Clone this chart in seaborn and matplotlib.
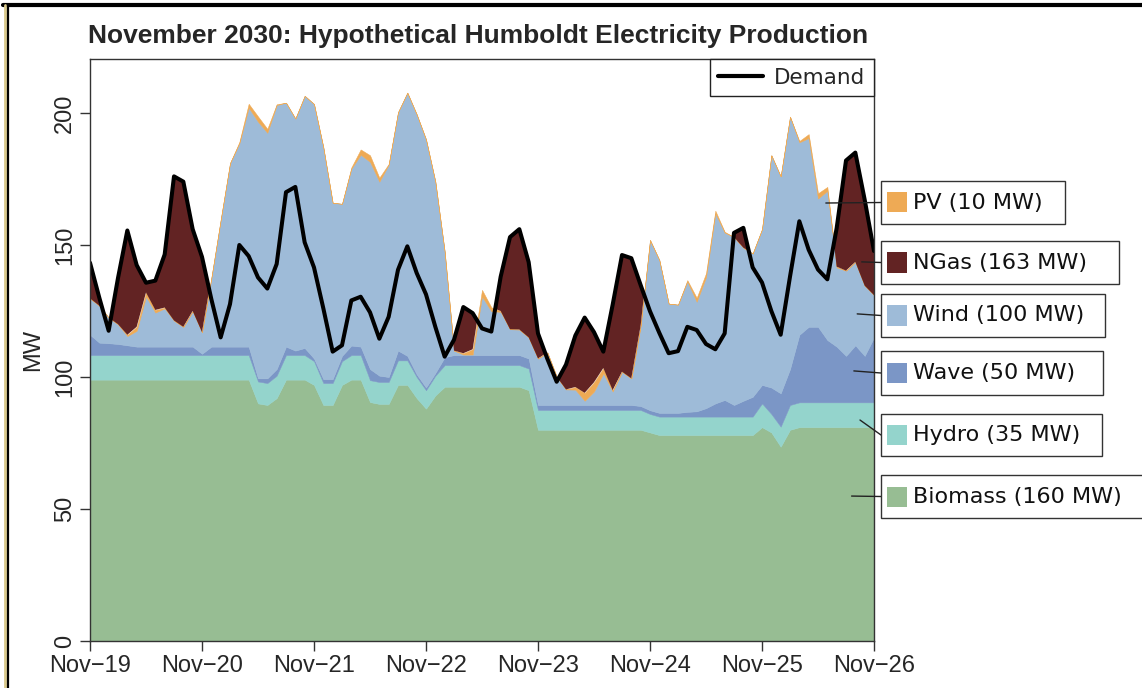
import numpy as np
import pandas as pd
import matplotlib
matplotlib.use('Agg')
import matplotlib.pyplot as plt
import seaborn as sns
from matplotlib.lines import Line2D
from matplotlib.patches import Rectangle

# 2-hourly samples, Nov-19 00:00 .. Nov-26 00:00 (one row per day)
hours = np.arange(0, 170, 2)

biomass = [99, 99, 99, 99, 99, 99, 99, 99, 99, 99, 99, 99,
           99, 99, 99, 99, 99, 99, 90, 89.4, 92, 99, 99, 99,
           97, 89.4, 89.4, 97, 99, 99, 90.5, 89.8, 89.8, 97, 97, 92,
           88, 93, 96.3, 96.3, 96.3, 96.3, 96.3, 96.3, 96.3, 96.3, 96.3, 95,
           80, 80, 80, 80, 80, 80, 80, 80, 80, 80, 80, 80,
           79, 78, 78, 78, 78, 78, 78, 78, 78, 78, 78, 78,
           81, 79, 73.6, 80, 81, 81, 81, 81, 81, 81, 81, 81,
           81]
hydro = [9.3, 9.3, 9.3, 9.3, 9.3, 9.3, 9.3, 9.3, 9.3, 9.3, 9.3, 9.3,
         9.3, 9.3, 9.3, 9.3, 9.3, 9.3, 8.3, 8.3, 8.5, 9.3, 9.3, 9.3,
         9, 8.3, 8.3, 9, 9.3, 9.3, 8.3, 8.3, 8.3, 9.3, 9.3, 8,
         7, 7.5, 8.2, 8.2, 8.2, 8.2, 8.2, 8.2, 8.2, 8.2, 8.2, 8.2,
         7.5, 7.5, 7.5, 7.5, 7.5, 7.5, 7.5, 7.5, 7.5, 7.5, 7.5, 7.5,
         7, 7, 7, 7, 7, 7, 7, 7, 7, 7, 7, 7,
         9, 7, 7.6, 9.4, 9.4, 9.4, 9.4, 9.4, 9.4, 9.4, 9.4, 9.4,
         9.4]
wave = [7.7, 4.7, 4.5, 4.2, 3.7, 3.2, 3.2, 3.2, 3.2, 3.2, 3.2, 3.2,
        0.5, 3.2, 3.2, 3.2, 3.2, 3.2, 1.2, 1.8, 2.5, 3.2, 1.7, 2.7,
        1, 1.5, 1.5, 2, 3.6, 3.2, 4.2, 2.4, 1.9, 3.7, 1.7, 1,
        1, 1, 3, 3.8, 3.8, 3.8, 3.8, 3.8, 3.8, 3.8, 3.8, 3.8,
        1.9, 1.9, 1.9, 1.9, 1.9, 1.9, 1.9, 1.9, 1.9, 1.9, 1.9, 1.5,
        1.4, 1.4, 1.4, 1.4, 1.8, 2, 3.2, 5, 6.3, 4.4, 6, 7.5,
        7, 10, 12.6, 13.6, 25.6, 28.6, 28.6, 23.6, 21.1, 17.6, 21.6, 17.6,
        24.6]
wind = [13.8, 14, 9.7, 7.5, 3.5, 6, 19, 12.9, 14.5, 9.9, 7.5, 13.5,
        8.2, 26, 48, 69.5, 77, 90.5, 97.2, 93, 100, 92.4, 87.9, 95.5,
        96.4, 87.8, 66.8, 57.6, 67, 72.7, 78.5, 73.5, 80.4, 90.3, 99.7, 98.5,
        94, 72.5, 40, 1.7, 0.2, 0.2, 22.2, 16.6, 16.4, 9.8, 9.7, 8,
        17.6, 19.9, 10.7, 5.9, 5.8, 1.6, 5.1, 12, 5.1, 12.6, 10.1, 30.5,
        64.5, 57.9, 41.4, 41, 49.4, 41.5, 49.6, 72, 63.4, 63.6, 58, 54.3,
        59, 88, 82.2, 95.6, 72.9, 71.5, 48.6, 56.5, 30, 32.3, 31.6, 26.6,
        16]
pv = [0, 0, 0, 0, 0.5, 1.5, 1.5, 1, 0.3, 0, 0, 0,
      0, 0, 0, 0, 0.5, 1.5, 2, 1.5, 0.3, 0, 0, 0,
      0, 0, 0, 0, 0.5, 2, 2.5, 1.5, 0.3, 0, 0, 0,
      0, 0, 0, 0, 0.5, 2, 2.5, 1.5, 0.3, 0, 0, 0,
      0, 0, 0, 0, 1, 3, 3.5, 2, 0.5, 0, 0, 0,
      0, 0, 0, 0, 0.5, 1.5, 1.5, 1, 0.3, 0, 0, 0,
      0, 0, 0, 0, 0.5, 1.5, 2, 1.5, 0.3, 0, 0, 0,
      0]
demand = [143.3, 130, 117.5, 137.5, 155.5, 142.4, 135.7, 136.5, 146.4, 176, 174, 156,
          145.5, 129.5, 115, 127.6, 150, 145.8, 137.7, 133.5, 142.8, 170, 172, 151,
          141.5, 126, 109.6, 112, 129, 130.4, 124.5, 114.5, 122.8, 140.6, 149.5, 139.4,
          131.3, 119, 107.7, 114.1, 126.5, 124.2, 118.4, 117.2, 138, 153, 156, 143.5,
          116.5, 106.9, 98.2, 104.7, 115.7, 122.5, 117, 109.6, 127.4, 146.2, 145, 134.8,
          124.9, 116.7, 109, 109.8, 119, 117.8, 112.5, 110.5, 116.5, 154.6, 156.5, 141.5,
          135.8, 125, 116, 138, 159, 148.2, 140.7, 137, 156.4, 182, 185, 167.2,
          147.7]

day_labels = ['Nov\u221219', 'Nov\u221220', 'Nov\u221221', 'Nov\u221222',
              'Nov\u221223', 'Nov\u221224', 'Nov\u221225', 'Nov\u221226']
y_ticks = [0, 50, 100, 150, 200]

# legend boxes on the right: label, colour, anchor point (day, MW), box in pixels (x0, y0, x1, y1 from top-left)
labels = ['PV (10 MW)', 'NGas (163 MW)', 'Wind (100 MW)', 'Wave (50 MW)', 'Hydro (35 MW)', 'Biomass (160 MW)']
colors = {'Biomass': '#97bd93', 'Hydro': '#94d4cc', 'Wave': '#7b96c6',
          'Wind': '#9ebbd8', 'PV': '#eeaa55', 'NGas': '#622323'}
label_colors = [colors['PV'], colors['NGas'], colors['Wind'], colors['Wave'], colors['Hydro'], colors['Biomass']]
anchors = [(6.57, 165.9), (6.89, 143.6), (6.85, 123.9), (6.82, 102.3), (6.875, 83.7), (6.80, 54.9)]
boxes = [(881, 181, 1065, 224), (881, 241, 1119, 284), (881, 294, 1105, 337),
         (881, 351, 1103, 395), (881, 414, 1102, 456), (881, 475, 1150, 518)]

df = pd.DataFrame({'hour': hours, 'Biomass': biomass, 'Hydro': hydro, 'Wave': wave,
                   'Wind': wind, 'PV': pv, 'Demand': demand})
df['day'] = df['hour'] / 24
supply = df[['Biomass', 'Hydro', 'Wave', 'Wind', 'PV']].sum(axis=1)

sns.set_theme(style='white')
plt.rcParams['font.family'] = ['Liberation Sans', 'DejaVu Sans']

W, H = 1142, 688
fig = plt.figure(figsize=(W / 100, H / 100), dpi=100)
ax = fig.add_axes([90 / W, 1 - 641 / H, (874 - 90) / W, (641 - 59) / H])

ax.stackplot(df['day'], df['Biomass'], df['Hydro'], df['Wave'], df['Wind'], df['PV'],
             colors=[colors['Biomass'], colors['Hydro'], colors['Wave'], colors['Wind'], colors['PV']],
             edgecolor='face', linewidth=0.35)
# gas fills the gap between renewables and demand
ax.fill_between(df['day'], supply, df['Demand'], where=df['Demand'] > supply,
                interpolate=True, color=colors['NGas'], linewidth=0)
sns.lineplot(data=df, x='day', y='Demand', color='black', linewidth=2.9, ax=ax, legend=False)

ax.set_xlim(0, 7)
ax.set_ylim(0, 220.45)
ax.set_xticks(range(8))
ax.set_xticklabels(day_labels, fontsize=17)
ax.set_yticks(y_ticks)
ax.set_yticklabels([str(v) for v in y_ticks], fontsize=17, rotation=90, va='center')
ax.tick_params(axis='both', bottom=True, left=True, direction='out', length=7, width=1,
               color='#333333', pad=3)
ax.set_xlabel('')
ax.set_ylabel('MW', fontsize=17, labelpad=7)
for s in ax.spines.values():
    s.set_visible(True)
    s.set_color('#333333')
    s.set_linewidth(1)

leg = ax.legend(handles=[Line2D([0], [0], color='black', lw=3)], labels=['Demand'],
                loc='upper right', bbox_to_anchor=(1, 1), borderaxespad=0, frameon=True,
                fancybox=False, framealpha=1, edgecolor='#222222',
                prop={'family': 'DejaVu Sans', 'size': 15.5},
                handlelength=2.1, handletextpad=0.5, borderpad=0.4)
leg.get_frame().set_linewidth(1)

fig.text(88 / W, 1 - 36 / H, 'November 2030: Hypothetical Humboldt Electricity Production',
         fontsize=19, fontweight='bold', ha='left', va='center')

# right-hand labelled boxes with leader lines
for lab, col, (ad, am), (x0, y0, x1, y1) in zip(labels, label_colors, anchors, boxes):
    ym = (y0 + y1) / 2
    fig.add_artist(Rectangle((x0 / W, 1 - y1 / H), (x1 - x0) / W, (y1 - y0) / H,
                             transform=fig.transFigure, facecolor='white',
                             edgecolor='#333333', linewidth=1))
    fig.add_artist(Rectangle((887 / W, 1 - (ym + 10) / H), 20 / W, 20 / H,
                             transform=fig.transFigure, facecolor=col, edgecolor='none'))
    fig.text(913 / W, 1 - ym / H, lab, fontsize=16, family='DejaVu Sans',
             color='#111111', ha='left', va='center')
    ax.annotate('', xy=(ad, am), xycoords='data', xytext=(x0 / W, 1 - ym / H),
                textcoords='figure fraction', annotation_clip=False,
                arrowprops=dict(arrowstyle='-', color='#222222', lw=1, shrinkA=0, shrinkB=0))

# outer frame of the original picture
fig.add_artist(Line2D([3 / W, 1], [1 - 5 / H, 1 - 5 / H], color='black', lw=3, transform=fig.transFigure))
fig.add_artist(Line2D([5 / W, 5 / W], [0, 1 - 5 / H], color='#d9c98b', lw=2, transform=fig.transFigure))
fig.add_artist(Line2D([8 / W, 8 / W], [0, 1 - 5 / H], color='black', lw=1.6, transform=fig.transFigure))

fig.savefig('out.png', dpi=100)
